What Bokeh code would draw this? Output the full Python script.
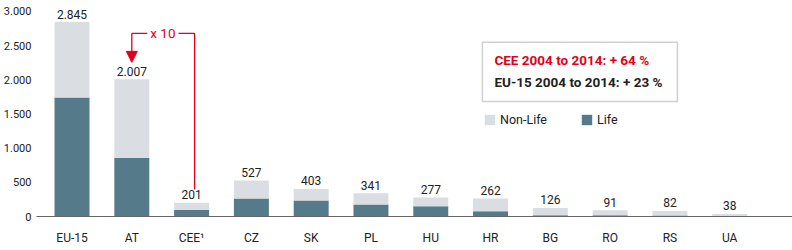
from bokeh.plotting import figure
from bokeh.models import (Range1d, FixedTicker, Legend, LegendItem, BoxAnnotation,
                          Label, Arrow, NormalHead, ColumnDataSource)
from bokeh.core.properties import value
from bokeh.embed import file_html
from bokeh.resources import INLINE

categories = ["EU-15", "AT", "CEE¹", "CZ", "SK", "PL", "HU", "HR", "BG", "RO", "RS", "UA"]
totals = [2845, 2007, 201, 527, 403, 341, 277, 262, 126, 91, 82, 38]
life = [1740, 860, 95, 265, 235, 175, 150, 75, 20, 18, 15, 3]
nonlife = [t - l for t, l in zip(totals, life)]
total_labels = ["2.845", "2.007", "201", "527", "403", "341", "277", "262", "126", "91", "82", "38"]
y_ticks = [0, 500, 1000, 1500, 2000, 2500, 3000]
y_tick_labels = ["0", "500", "1.000", "1.500", "2.000", "2.500", "3.000"]

FONT = "Roboto"
LIFE_C = "#557a89"
NONLIFE_C = "#dadee2"
RED = "#e2001a"
TXT = "#222222"

xs = list(range(len(categories)))
src = ColumnDataSource(dict(x=xs, life=life, nonlife=nonlife, total=totals, lab=total_labels))

p = figure(width=792, height=250, x_range=Range1d(-0.594, 12.05), y_range=Range1d(0, 3160),
           output_backend="svg", toolbar_location=None,
           min_border_left=36, min_border_right=0, min_border_top=0, min_border_bottom=34)
p.outline_line_color = None
p.xgrid.grid_line_color = None
p.ygrid.grid_line_color = None
p.background_fill_color = "white"

rs = p.vbar_stack(["life", "nonlife"], x="x", width=0.585, color=[LIFE_C, NONLIFE_C],
                  line_color=None, source=src)

p.text(x="x", y="total", text="lab", source=src, text_align="center", text_baseline="alphabetic",
       y_offset=-8, text_font=value(FONT), text_font_size="12px", text_color=TXT)

# x axis
xa = p.xaxis[0]
xa.ticker = FixedTicker(ticks=xs)
xa.major_label_overrides = {i: c for i, c in zip(xs, categories)}
xa.major_tick_line_color = None
xa.minor_tick_line_color = None
xa.major_tick_out = 0
xa.minor_tick_out = 0
xa.major_tick_in = 0
xa.axis_line_color = "#666666"
xa.axis_line_width = 1.2
xa.major_label_standoff = 14
xa.major_label_text_font = FONT
xa.major_label_text_font_size = "12px"
xa.major_label_text_color = TXT

# y axis
ya = p.yaxis[0]
ya.ticker = FixedTicker(ticks=y_ticks)
ya.major_label_overrides = {t: l for t, l in zip(y_ticks, y_tick_labels)}
ya.axis_line_color = None
ya.major_tick_line_color = None
ya.minor_tick_line_color = None
ya.major_tick_out = 0
ya.minor_tick_out = 0
ya.major_tick_in = 0
ya.major_label_standoff = 5
ya.major_label_text_font = FONT
ya.major_label_text_font_size = "11px"
ya.major_label_text_color = TXT

# x10 connector
p.line(x=[2.05, 2.05, 1, 1], y=[395, 2679, 2679, 2420], line_color=RED, line_width=1.3)
p.add_layout(Arrow(end=NormalHead(size=11, fill_color=RED, line_color=RED),
                   x_start=1, y_start=2420, x_end=1, y_end=2255,
                   line_color=RED, line_width=1.3))
p.add_layout(Label(x=1.52, y=2679, text="x 10", text_align="center", text_baseline="middle",
                   text_font=FONT, text_font_size="13.5px", text_color=RED,
                   background_fill_color="white", padding=3))

# info box
p.add_layout(BoxAnnotation(left=6.864, right=10.125, top=2548, bottom=1684,
                           fill_color=None, fill_alpha=0, line_color="#666666", line_width=1.5))
p.add_layout(Label(x=7.065, y=2284, text="CEE 2004 to 2014: + 64 %", text_align="left",
                   text_baseline="middle", text_font=FONT, text_font_size="13.5px",
                   text_font_style="bold", text_color=RED))
p.add_layout(Label(x=7.065, y=1962, text="EU-15 2004 to 2014: + 23 %", text_align="left",
                   text_baseline="middle", text_font=FONT, text_font_size="13.5px",
                   text_font_style="bold", text_color=TXT))

legend = Legend(items=[LegendItem(label="Non-Life", renderers=[rs[1]]),
                       LegendItem(label="Life", renderers=[rs[0]])],
                orientation="horizontal", location=(447, 89),
                border_line_color=None, background_fill_alpha=0, padding=0, margin=0,
                spacing=33, label_standoff=4, glyph_width=13, glyph_height=13,
                label_height=13, label_text_font=FONT, label_text_font_size="12.5px",
                label_text_color=TXT, label_text_baseline="middle")
p.add_layout(legend)

open("out.html", "w").write(file_html(p, INLINE))
